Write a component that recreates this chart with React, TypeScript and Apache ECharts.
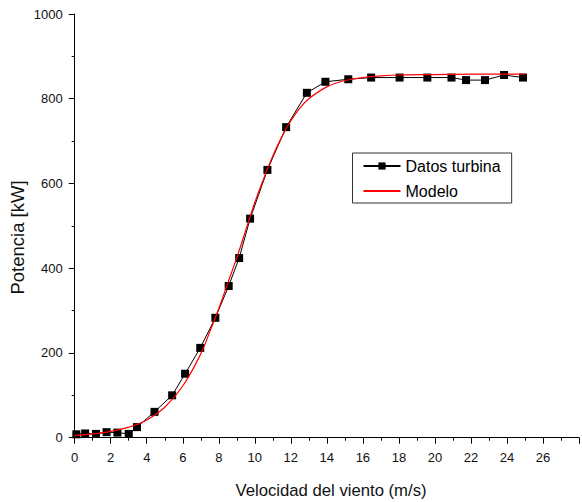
import React, { useEffect, useRef } from "react";
import * as echarts from "echarts";

const turbineSpeed = [0.09, 0.58, 1.18, 1.77, 2.37, 3.0, 3.46, 4.43, 5.41, 6.13, 6.97, 7.81, 8.55, 9.13, 9.74, 10.7, 11.74, 12.89, 13.92, 15.19, 16.46, 18.04, 19.58, 20.92, 21.73, 22.78, 23.84, 24.89];
const turbinePower = [8, 10, 9, 13, 12, 9, 25, 61, 100, 151, 212, 283, 358, 424, 517, 632, 733, 814, 840, 846, 850, 850, 850, 850, 844, 844, 856, 850];

const modelSpeed = [0, 1, 2, 3, 4, 5, 6, 7, 7.5, 8, 8.5, 9, 9.5, 10, 10.5, 11, 11.5, 12, 12.5, 13, 14, 15, 16, 17, 18, 20, 22, 25];
const modelPower = [5, 9, 15, 25, 42, 72, 122, 198, 250, 305, 365, 425, 490, 555, 612, 665, 710, 748, 778, 800, 828, 843, 850, 854, 856, 857, 858, 858];

const xTicks = [0, 2, 4, 6, 8, 10, 12, 14, 16, 18, 20, 22, 24, 26];
const yTicks = [0, 200, 400, 600, 800, 1000];

const seriesNames = ["Datos turbina", "Modelo"];
const xTitle = "Velocidad del viento (m/s)";
const yTitle = "Potencia [kW]";

const FONT = "'Liberation Sans', Arial, sans-serif";

export default function App() {
  const ref = useRef<HTMLDivElement>(null);
  useEffect(() => {
    if (!ref.current) return;
    const chart = echarts.init(ref.current, undefined, { renderer: "svg" });
    const turbine = turbineSpeed.map((x, i) => [x, turbinePower[i]]);
    const model = modelSpeed.map((x, i) => [x, modelPower[i]]);
    chart.setOption({
      animation: false,
      backgroundColor: "#fff",
      textStyle: { fontFamily: FONT },
      grid: { left: 74.7, top: 14, width: 28 * 18.985, height: 423.7, containLabel: false },
      legend: {
        data: [
          { name: seriesNames[0] },
          { name: seriesNames[1], itemStyle: { color: "rgba(0,0,0,0)", borderWidth: 0 } },
        ],
        orient: "vertical",
        left: 352.5,
        top: 153,
        padding: [5, 11, 4, 10],
        itemGap: 9,
        itemWidth: 37,
        itemHeight: 9,
        borderColor: "#333",
        borderWidth: 1,
        textStyle: { fontFamily: FONT, fontSize: 16, color: "#000" },
      },
      xAxis: {
        type: "value",
        min: 0,
        max: 28,
        interval: 2,
        axisLine: { lineStyle: { color: "#000", width: 1 } },
        axisTick: { show: true, length: 6, inside: false, lineStyle: { color: "#000" } },
        minorTick: { show: true, splitNumber: 2, length: 3, lineStyle: { color: "#000" } },
        splitLine: { show: false },
        axisLabel: {
          margin: 13,
          fontSize: 13,
          color: "#111",
          fontFamily: FONT,
          formatter: (v: number) => (xTicks.indexOf(v) >= 0 ? String(v) : ""),
        },
      },
      yAxis: {
        type: "value",
        min: 0,
        max: 1000,
        interval: 200,
        axisLine: { show: true, lineStyle: { color: "#000", width: 1 } },
        axisTick: { show: true, length: 6, lineStyle: { color: "#000" } },
        minorTick: { show: true, splitNumber: 2, length: 3, lineStyle: { color: "#000" } },
        splitLine: { show: false },
        axisLabel: {
          margin: 12,
          fontSize: 13,
          color: "#111",
          fontFamily: FONT,
          formatter: (v: number) => (yTicks.indexOf(v) >= 0 ? String(v) : ""),
        },
      },
      graphic: [
        {
          type: "text",
          x: 331,
          y: 490,
          style: { text: xTitle, fontSize: 16.7, fontFamily: FONT, fill: "#111", textAlign: "center", textVerticalAlign: "middle" },
        },
        {
          type: "text",
          x: 17,
          y: 237.5,
          rotation: Math.PI / 2,
          style: { text: yTitle, fontSize: 18.5, fontFamily: FONT, fill: "#111", textAlign: "center", textVerticalAlign: "middle" },
        },
      ],
      series: [
        {
          name: seriesNames[0],
          type: "line",
          data: turbine,
          symbol: "rect",
          symbolSize: 8,
          itemStyle: { color: "#000" },
          lineStyle: { color: "#000", width: 1 },
          z: 2,
        },
        {
          name: seriesNames[1],
          type: "line",
          data: model,
          symbol: "none",
          smooth: 0.4,
          itemStyle: { color: "#ff0000" },
          lineStyle: { color: "#ff0000", width: 1.2 },
          z: 3,
        },
      ],
    });
    return () => chart.dispose();
  }, []);
  return <div ref={ref} style={{ position: "absolute", left: 0, top: 0, width: 582, height: 502 }} />;
}
